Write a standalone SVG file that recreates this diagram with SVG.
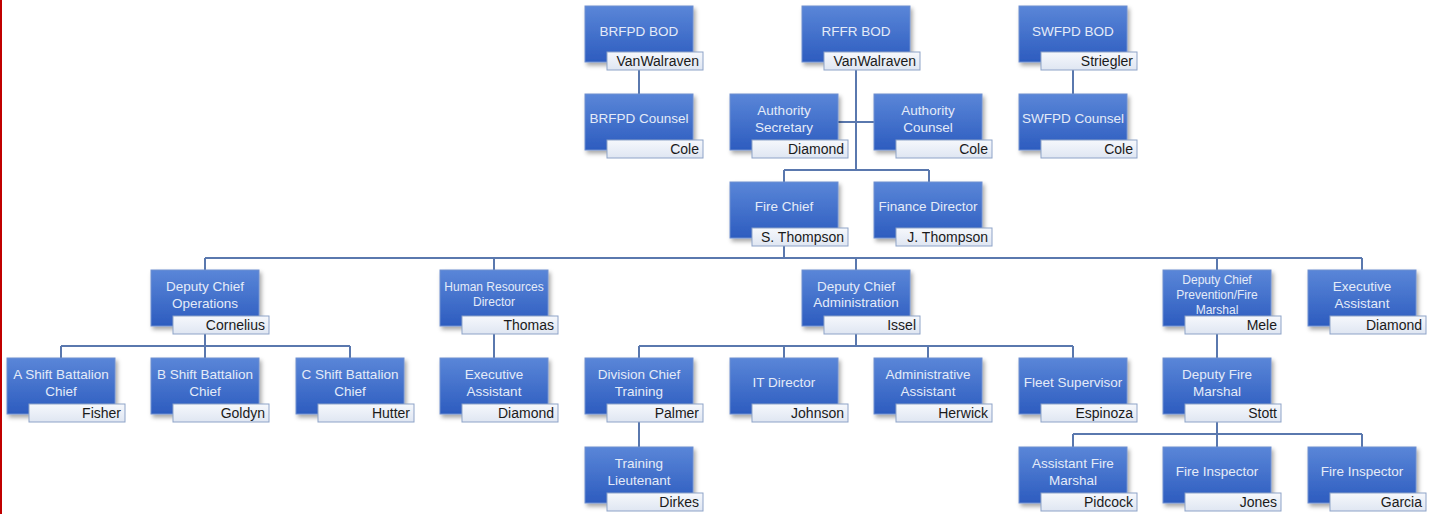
<svg xmlns="http://www.w3.org/2000/svg" width="1441" height="514" viewBox="0 0 1441 514">
<style>
.box{fill:url(#gb);stroke:#6f8fcf;stroke-width:1;filter:url(#sh)}
.lab{fill:url(#gl);stroke:#8ea3c8;stroke-width:1}
.t{font-family:"Liberation Sans",Arial,sans-serif;font-size:13.5px;fill:#e4ebf8;text-anchor:middle}
.s{font-size:12px}
.n{font-family:"Liberation Sans",Arial,sans-serif;font-size:14px;fill:#1a1a1a;text-anchor:end}
.c{fill:none;stroke:#5a78ae;stroke-width:2}
</style>
<defs>
<linearGradient id="gb" x1="0" y1="0" x2="0" y2="1">
<stop offset="0" stop-color="#5a86d8"/>
<stop offset="1" stop-color="#2d5cbf"/>
</linearGradient>
<linearGradient id="gl" x1="0" y1="0" x2="0" y2="1">
<stop offset="0" stop-color="#f6f8fc"/>
<stop offset="1" stop-color="#dfe6f2"/>
</linearGradient>
<filter id="sh" x="-10%" y="-10%" width="130%" height="140%">
<feDropShadow dx="2" dy="3" stdDeviation="2" flood-color="#000" flood-opacity="0.35"/>
</filter>
</defs>
<rect x="0" y="0" width="1441" height="514" fill="#fff"/>
<rect x="0" y="0" width="2" height="514" fill="#c00000"/>

<g id="connectors">
<path class="c" d="M639 64V94"/>
<path class="c" d="M1073 64V94"/>
<path class="c" d="M856 64V170M838 122H874M784 170H929M784 170V182M929 170V182"/>
<path class="c" d="M784 238V258M205 258H1362M205 258V270M494 258V270M856 258V270M1217 258V270M1362 258V270"/>
<path class="c" d="M205 326V346M61 346H350M61 346V358M205 346V358M350 346V358"/>
<path class="c" d="M494 326V358"/>
<path class="c" d="M856 326V346M639 346H1073M639 346V358M784 346V358M928 346V358M1073 346V358"/>
<path class="c" d="M1217 326V358"/>
<path class="c" d="M639 414V447"/>
<path class="c" d="M1217 414V434M1073 434H1362M1073 434V447M1217 434V447M1362 434V447"/>
</g>

<g id="brfpd-bod" transform="translate(585,6)"><rect class="box" width="108" height="56"/><text class="t" x="54" y="30">BRFPD BOD</text><rect class="lab" x="22" y="46" width="96" height="18"/><text class="n" x="114" y="60">VanWalraven</text></g>
<g id="rffr-bod" transform="translate(802,6)"><rect class="box" width="108" height="56"/><text class="t" x="54" y="30">RFFR BOD</text><rect class="lab" x="22" y="46" width="96" height="18"/><text class="n" x="114" y="60">VanWalraven</text></g>
<g id="swfpd-bod" transform="translate(1019,6)"><rect class="box" width="108" height="56"/><text class="t" x="54" y="30">SWFPD BOD</text><rect class="lab" x="22" y="46" width="96" height="18"/><text class="n" x="114" y="60">Striegler</text></g>

<g id="brfpd-counsel" transform="translate(585,94)"><rect class="box" width="108" height="56"/><text class="t" x="54" y="29">BRFPD Counsel</text><rect class="lab" x="22" y="46" width="96" height="18"/><text class="n" x="114" y="60">Cole</text></g>
<g id="authority-secretary" transform="translate(730,94)"><rect class="box" width="108" height="56"/><text class="t" x="54" y="21">Authority</text><text class="t" x="54" y="38">Secretary</text><rect class="lab" x="22" y="46" width="96" height="18"/><text class="n" x="114" y="60">Diamond</text></g>
<g id="authority-counsel" transform="translate(874,94)"><rect class="box" width="108" height="56"/><text class="t" x="54" y="21">Authority</text><text class="t" x="54" y="38">Counsel</text><rect class="lab" x="22" y="46" width="96" height="18"/><text class="n" x="114" y="60">Cole</text></g>
<g id="swfpd-counsel" transform="translate(1019,94)"><rect class="box" width="108" height="56"/><text class="t" x="54" y="29">SWFPD Counsel</text><rect class="lab" x="22" y="46" width="96" height="18"/><text class="n" x="114" y="60">Cole</text></g>

<g id="fire-chief" transform="translate(730,182)"><rect class="box" width="108" height="56"/><text class="t" x="54" y="29">Fire Chief</text><rect class="lab" x="22" y="46" width="96" height="18"/><text class="n" x="114" y="60">S. Thompson</text></g>
<g id="finance-director" transform="translate(874,182)"><rect class="box" width="108" height="56"/><text class="t" x="54" y="29">Finance Director</text><rect class="lab" x="22" y="46" width="96" height="18"/><text class="n" x="114" y="60">J. Thompson</text></g>

<g id="deputy-chief-operations" transform="translate(151,270)"><rect class="box" width="108" height="56"/><text class="t" x="54" y="21">Deputy Chief</text><text class="t" x="54" y="38">Operations</text><rect class="lab" x="22" y="46" width="96" height="18"/><text class="n" x="114" y="60">Cornelius</text></g>
<g id="hr-director" transform="translate(440,270)"><rect class="box" width="108" height="56"/><text class="t s" x="54" y="21">Human Resources</text><text class="t s" x="54" y="36">Director</text><rect class="lab" x="22" y="46" width="96" height="18"/><text class="n" x="114" y="60">Thomas</text></g>
<g id="deputy-chief-administration" transform="translate(802,270)"><rect class="box" width="108" height="56"/><text class="t" x="54" y="21">Deputy Chief</text><text class="t" x="54" y="37">Administration</text><rect class="lab" x="22" y="46" width="96" height="18"/><text class="n" x="114" y="60">Issel</text></g>
<g id="deputy-chief-prevention" transform="translate(1163,270)"><rect class="box" width="108" height="56"/><text class="t s" x="54" y="14">Deputy Chief</text><text class="t s" x="54" y="29">Prevention/Fire</text><text class="t s" x="54" y="44">Marshal</text><rect class="lab" x="22" y="46" width="96" height="18"/><text class="n" x="114" y="60">Mele</text></g>
<g id="executive-assistant-1" transform="translate(1308,270)"><rect class="box" width="108" height="56"/><text class="t" x="54" y="21">Executive</text><text class="t" x="54" y="38">Assistant</text><rect class="lab" x="22" y="46" width="96" height="18"/><text class="n" x="114" y="60">Diamond</text></g>

<g id="a-shift" transform="translate(7,358)"><rect class="box" width="108" height="56"/><text class="t" x="54" y="21">A Shift Battalion</text><text class="t" x="54" y="38">Chief</text><rect class="lab" x="22" y="46" width="96" height="18"/><text class="n" x="114" y="60">Fisher</text></g>
<g id="b-shift" transform="translate(151,358)"><rect class="box" width="108" height="56"/><text class="t" x="54" y="21">B Shift Battalion</text><text class="t" x="54" y="38">Chief</text><rect class="lab" x="22" y="46" width="96" height="18"/><text class="n" x="114" y="60">Goldyn</text></g>
<g id="c-shift" transform="translate(296,358)"><rect class="box" width="108" height="56"/><text class="t" x="54" y="21">C Shift Battalion</text><text class="t" x="54" y="38">Chief</text><rect class="lab" x="22" y="46" width="96" height="18"/><text class="n" x="114" y="60">Hutter</text></g>
<g id="executive-assistant-2" transform="translate(440,358)"><rect class="box" width="108" height="56"/><text class="t" x="54" y="21">Executive</text><text class="t" x="54" y="38">Assistant</text><rect class="lab" x="22" y="46" width="96" height="18"/><text class="n" x="114" y="60">Diamond</text></g>
<g id="division-chief-training" transform="translate(585,358)"><rect class="box" width="108" height="56"/><text class="t" x="54" y="21">Division Chief</text><text class="t" x="54" y="38">Training</text><rect class="lab" x="22" y="46" width="96" height="18"/><text class="n" x="114" y="60">Palmer</text></g>
<g id="it-director" transform="translate(730,358)"><rect class="box" width="108" height="56"/><text class="t" x="54" y="29">IT Director</text><rect class="lab" x="22" y="46" width="96" height="18"/><text class="n" x="114" y="60">Johnson</text></g>
<g id="administrative-assistant" transform="translate(874,358)"><rect class="box" width="108" height="56"/><text class="t" x="54" y="21">Administrative</text><text class="t" x="54" y="38">Assistant</text><rect class="lab" x="22" y="46" width="96" height="18"/><text class="n" x="114" y="60">Herwick</text></g>
<g id="fleet-supervisor" transform="translate(1019,358)"><rect class="box" width="108" height="56"/><text class="t" x="54" y="29">Fleet Supervisor</text><rect class="lab" x="22" y="46" width="96" height="18"/><text class="n" x="114" y="60">Espinoza</text></g>
<g id="deputy-fire-marshal" transform="translate(1163,358)"><rect class="box" width="108" height="56"/><text class="t" x="54" y="21">Deputy Fire</text><text class="t" x="54" y="38">Marshal</text><rect class="lab" x="22" y="46" width="96" height="18"/><text class="n" x="114" y="60">Stott</text></g>

<g id="training-lieutenant" transform="translate(585,447)"><rect class="box" width="108" height="56"/><text class="t" x="54" y="21">Training</text><text class="t" x="54" y="38">Lieutenant</text><rect class="lab" x="22" y="46" width="96" height="18"/><text class="n" x="114" y="60">Dirkes</text></g>
<g id="assistant-fire-marshal" transform="translate(1019,447)"><rect class="box" width="108" height="56"/><text class="t" x="54" y="21">Assistant Fire</text><text class="t" x="54" y="38">Marshal</text><rect class="lab" x="22" y="46" width="96" height="18"/><text class="n" x="114" y="60">Pidcock</text></g>
<g id="fire-inspector-1" transform="translate(1163,447)"><rect class="box" width="108" height="56"/><text class="t" x="54" y="29">Fire Inspector</text><rect class="lab" x="22" y="46" width="96" height="18"/><text class="n" x="114" y="60">Jones</text></g>
<g id="fire-inspector-2" transform="translate(1308,447)"><rect class="box" width="108" height="56"/><text class="t" x="54" y="29">Fire Inspector</text><rect class="lab" x="22" y="46" width="96" height="18"/><text class="n" x="114" y="60">Garcia</text></g>
</svg>
